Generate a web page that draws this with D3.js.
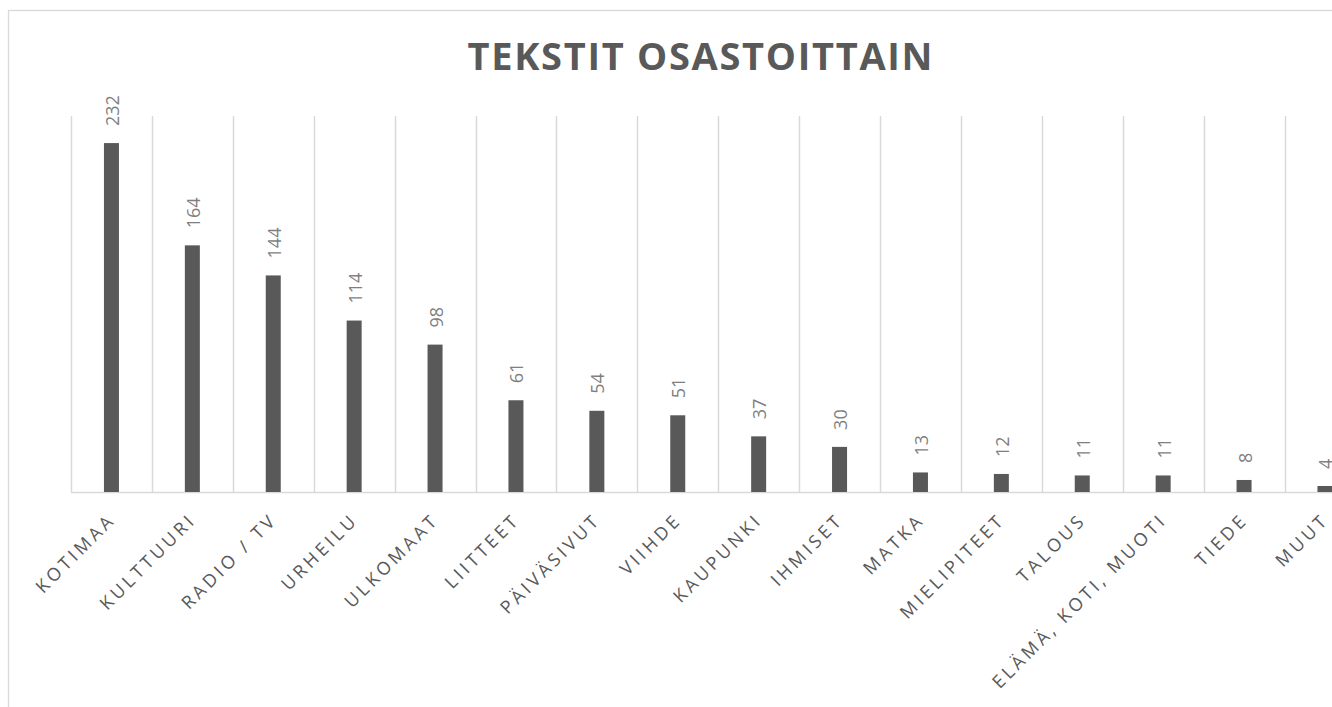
<!DOCTYPE html>
<html>
<head>
<meta charset="utf-8">
<script src="https://cdn.jsdelivr.net/npm/d3@7"></script>
<style>
	body { margin: 0; background: #fff; overflow: hidden; }
	text { font-family: "Open Sans", sans-serif; }
</style>
</head>
<body>
<svg id="chart" width="1332" height="707"></svg>
<script>
var categories = ["KOTIMAA", "KULTTUURI", "RADIO / TV", "URHEILU", "ULKOMAAT", "LIITTEET",
	"PÄIVÄSIVUT", "VIIHDE", "KAUPUNKI", "IHMISET", "MATKA", "MIELIPITEET", "TALOUS",
	"ELÄMÄ, KOTI, MUOTI", "TIEDE", "MUUT"];
var values = [232, 164, 144, 114, 98, 61, 54, 51, 37, 30, 13, 12, 11, 11, 8, 4];
var title = "TEKSTIT OSASTOITTAIN";

var data = categories.map((c, i) => ({name: c, value: values[i]}));

var svg = d3.select("#chart"),
	margin = {top: 116, left: 71, bottom: 492},
	step = 80.9;

// chart border (runs off the right and bottom of the picture)
svg.append("rect")
	.attr("x", 8.5).attr("y", 10.5)
	.attr("width", 1400).attr("height", 800)
	.attr("fill", "none")
	.attr("stroke", "#d9d9d9")
	.attr("stroke-width", 1.3)

var x = d3.scaleBand()
	.domain(categories)
	.range([margin.left, margin.left + step * categories.length])
	.padding(0)

var y = d3.scaleLinear()
	.domain([0, 250])
	.range([margin.bottom, margin.top])

// vertical gridlines between categories
var edges = categories.map(c => x(c)).concat([x.range()[1]]);
svg.append("g")
	.selectAll("line")
	.data(edges)
.enter().append("line")
	.attr("x1", d => Math.round(d) + 0.5).attr("x2", d => Math.round(d) + 0.5)
	.attr("y1", y(250)).attr("y2", y(0))
	.attr("stroke", "#d9d9d9")
	.attr("stroke-width", 1.5)

// baseline
svg.append("line")
	.attr("x1", x.range()[0]).attr("x2", x.range()[1])
	.attr("y1", y(0) + 0.5).attr("y2", y(0) + 0.5)
	.attr("stroke", "#d9d9d9")
	.attr("stroke-width", 1.5)

var barW = 15;

svg.append("g")
	.selectAll("rect")
	.data(data)
.enter().append("rect")
	.attr("x", d => x(d.name) + x.bandwidth() / 2 - barW / 2)
	.attr("y", d => y(d.value))
	.attr("width", barW)
	.attr("height", d => y(0) - y(d.value))
	.attr("fill", "#595959")

// value labels
svg.append("g")
	.selectAll("text")
	.data(data)
.enter().append("text")
	.attr("transform", d => "translate(" + (x(d.name) + x.bandwidth() / 2 + 7.5) + "," + (y(d.value) - 17) + ") rotate(-90)")
	.attr("font-size", 18)
	.attr("fill", "#7f7f7f")
	.text(d => d.value)

// category labels
svg.append("g")
	.selectAll("text")
	.data(data)
.enter().append("text")
	.attr("transform", d => "translate(" + (x(d.name) + x.bandwidth() / 2 + 5) + ",521) rotate(-45)")
	.attr("text-anchor", "end")
	.attr("font-size", 18)
	.attr("letter-spacing", "3.5px")
	.attr("fill", "#595959")
	.text(d => d.name)

// title, centred on the whole chart area (which runs past the right edge)
var t = svg.append("text")
	.attr("x", 700).attr("y", 70)
	.attr("text-anchor", "middle")
	.attr("font-size", 38)
	.attr("font-weight", "bold")
	.attr("fill", "#595959")
	.text(title)
var w0 = t.node().getComputedTextLength();
var ls = Math.max(0, (465 - w0) / (title.length - 1));
t.attr("letter-spacing", ls + "px")
	.attr("x", 700 + ls / 2)
</script>
</body>
</html>
